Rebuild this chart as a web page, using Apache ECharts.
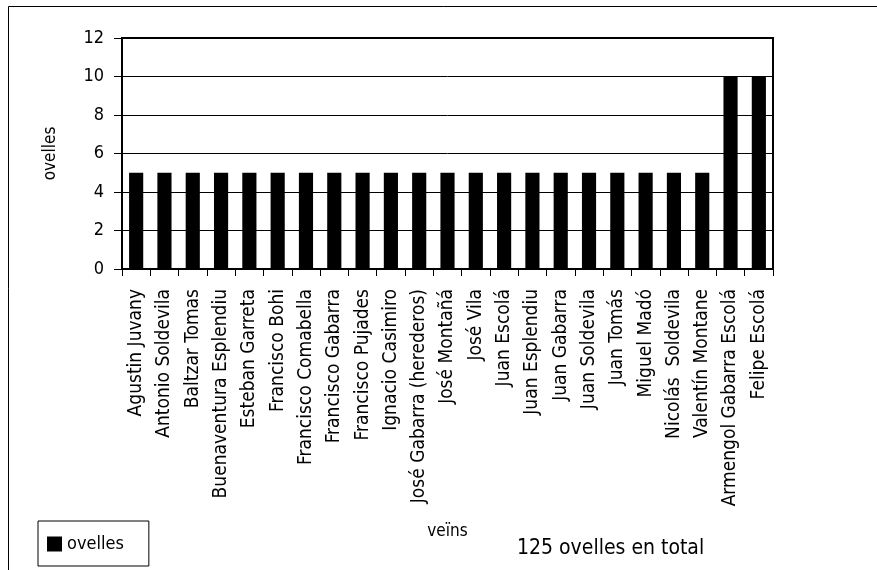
<!DOCTYPE html>
<html>
<head>
<meta charset="utf-8">
<script src="https://cdn.jsdelivr.net/npm/echarts@6/dist/echarts.min.js"></script>
<style>
html,body{margin:0;padding:0;background:#fff;}
#chart{width:877px;height:570px;}
</style>
</head>
<body>
<div id="chart"></div>
<script>
const categories = [
  "Agustin Juvany","Antonio Soldevila","Baltzar Tomas","Buenaventura Esplendiu",
  "Esteban Garreta","Francisco Bohi","Francisco Comabella","Francisco Gabarra",
  "Francisco Pujades","Ignacio Casimiro","José Gabarra (herederos)","José Montañá",
  "José Vila","Juan Escolá","Juan Esplendiu","Juan Gabarra","Juan Soldevila",
  "Juan Tomás","Miguel Madó","Nicolás  Soldevila","Valentín Montane",
  "Armengol Gabarra Escolá","Felipe Escolá"
];
const ovelles = [5,5,5,5,5,5,5,5,5,5,5,5,5,5,5,5,5,5,5,5,5,10,10];
const seriesName = "ovelles";
const yAxisName = "ovelles";
const xAxisName = "veïns";
const totalText = "125 ovelles en total";

const FONT = '"DejaVu Sans Condensed", "Liberation Sans", Arial, sans-serif';
const chart = echarts.init(document.getElementById('chart'), null, {renderer:'canvas'});
chart.setOption({
  animation:false,
  backgroundColor:'#fff',
  textStyle:{fontFamily:FONT,color:'#000'},
  graphic:[
    {type:'rect',shape:{x:8.5,y:6.5,width:900,height:600},style:{fill:null,stroke:'#000',lineWidth:1},silent:true,z:-1},
    {type:'text',x:517,y:549,style:{text:totalText,font:'21px '+FONT,fill:'#000',textVerticalAlign:'middle',verticalAlign:'middle'}}
  ],
  grid:{left:122,top:38,width:651,height:231,show:true,borderColor:'#000',borderWidth:2,backgroundColor:'transparent'},
  legend:{
    left:38,top:521,orient:'vertical',
    data:[seriesName],
    icon:'rect',itemWidth:15,itemHeight:15,itemGap:4,
    borderColor:'#000',borderWidth:1,padding:[14,25,13,9],
    textStyle:{fontFamily:FONT,fontSize:18,lineHeight:15,color:'#000'}
  },
  xAxis:{
    type:'category',data:categories,
    name:xAxisName,nameLocation:'middle',nameGap:254,
    nameTextStyle:{fontFamily:FONT,fontSize:17,color:'#000'},
    axisLine:{lineStyle:{color:'#000',width:2}},
    axisTick:{show:true,length:7,lineStyle:{color:'#000'}},
    axisLabel:{rotate:90,interval:0,margin:20,fontFamily:FONT,fontSize:19,color:'#000'}
  },
  yAxis:{
    type:'value',min:0,max:12,interval:2,
    name:yAxisName,nameLocation:'middle',nameGap:63,nameRotate:90,
    nameTextStyle:{fontFamily:FONT,fontSize:17,color:'#000'},
    axisLine:{show:true,lineStyle:{color:'#000',width:2}},
    axisTick:{show:true,length:8,lineStyle:{color:'#000'}},
    axisLabel:{margin:18,fontFamily:FONT,fontSize:18,color:'#000'},
    splitLine:{show:true,lineStyle:{color:'#000',width:1}}
  },
  series:[{
    name:seriesName,type:'bar',data:ovelles,barWidth:'50%',
    itemStyle:{color:'#000'}
  }]
});
</script>
</body>
</html>
